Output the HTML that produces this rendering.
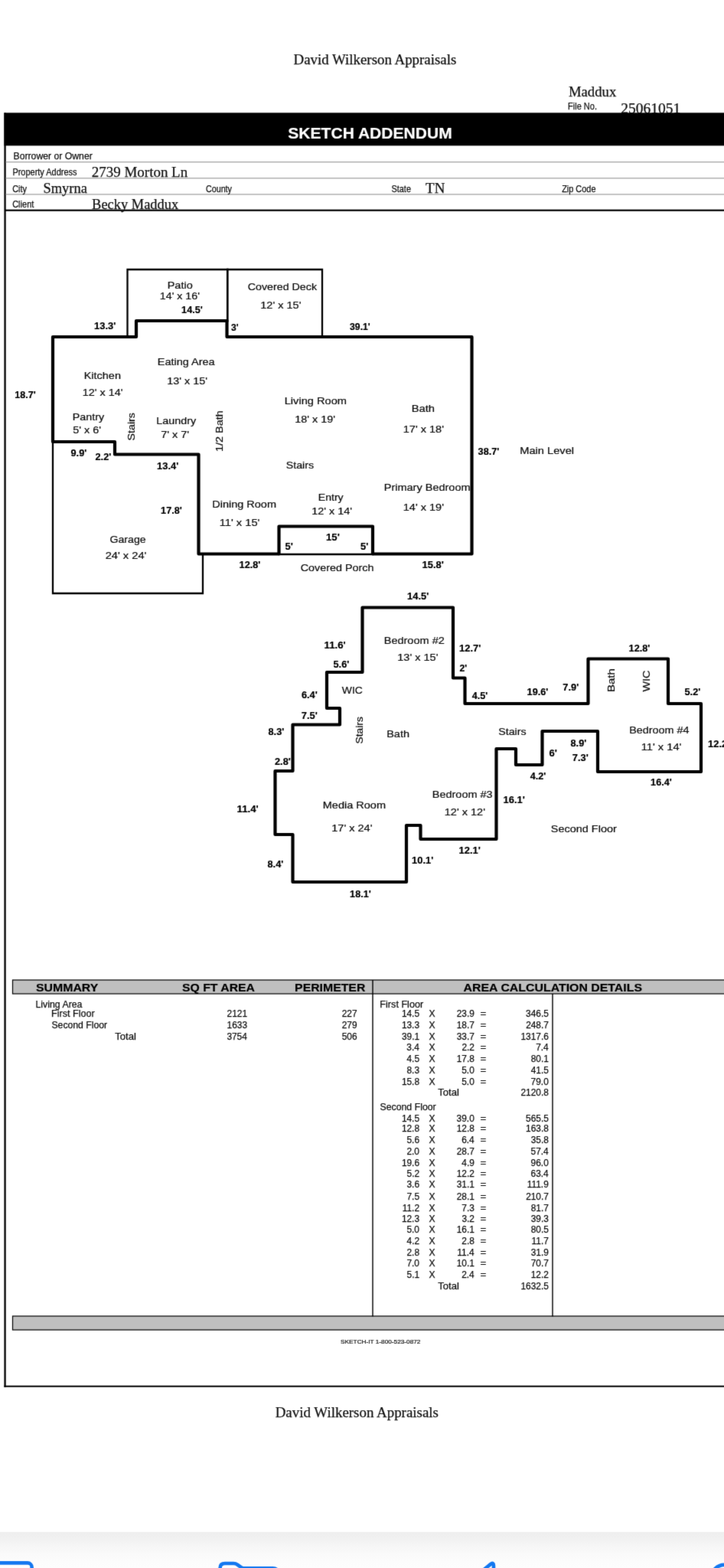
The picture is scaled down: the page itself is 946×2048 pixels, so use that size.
<!DOCTYPE html>
<html lang="en">
<head>
<meta charset="utf-8">
<title>Sketch Addendum</title>
<style>
html,body{margin:0;padding:0;background:#fff}
body{width:946px;height:2048px;overflow:hidden;position:relative}
svg{position:absolute;left:0;top:0;display:block;will-change:transform}
text{white-space:pre}
text.room{font-family:"Liberation Sans", Arial, Helvetica, sans-serif;font-size:12.2px;font-weight:normal;fill:#111;stroke:#111;stroke-width:0.22}
text.dim{font-family:"Liberation Sans", Arial, Helvetica, sans-serif;font-size:12.0px;font-weight:bold;fill:#000;stroke:#000;stroke-width:0.2}
text.lbl{font-family:"Liberation Sans", Arial, Helvetica, sans-serif;font-size:12.1px;font-weight:normal;fill:#111;stroke:#111;stroke-width:0.25}
text.lbln{font-family:"Liberation Sans", Arial, Helvetica, sans-serif;font-size:12.1px;font-weight:normal;fill:#111;stroke:#111;stroke-width:0.25}
text.ser{font-family:"Liberation Serif", "Times New Roman", serif;font-size:18.5px;font-weight:normal;fill:#111;stroke:#111;stroke-width:0.25}
text.title{font-family:"Liberation Sans", Arial, Helvetica, sans-serif;font-size:20.5px;font-weight:bold;fill:#fff;stroke:#fff;stroke-width:0.2}
text.th{font-family:"Liberation Sans", Arial, Helvetica, sans-serif;font-size:15.4px;font-weight:bold;fill:#000;stroke:#000;stroke-width:0.2}
text.td{font-family:"Liberation Sans", Arial, Helvetica, sans-serif;font-size:11.9px;font-weight:normal;fill:#111;stroke:#111;stroke-width:0.25}
text.tiny{font-family:"Liberation Sans", Arial, Helvetica, sans-serif;font-size:8.0px;font-weight:normal;fill:#111;stroke:#111;stroke-width:0.2}
</style>
</head>
<body>
<svg width="946" height="2048" viewBox="0 0 946 2048">
<defs><filter id="soft" filterUnits="userSpaceOnUse" x="-30" y="-30" width="1006" height="2108" color-interpolation-filters="sRGB"><feConvolveMatrix order="3" kernelMatrix="0.01 0.08 0.01 0.08 0.64 0.08 0.01 0.08 0.01" edgeMode="duplicate" preserveAlpha="true"/></filter><linearGradient id="tb" gradientUnits="userSpaceOnUse" x1="0" y1="2001" x2="0" y2="2048"><stop offset="0" stop-color="#eeeeee"/><stop offset="0.2" stop-color="#f1f1f1"/><stop offset="0.4" stop-color="#f6f6f6"/><stop offset="0.62" stop-color="#fafafa"/><stop offset="0.85" stop-color="#fcfcfc"/><stop offset="1" stop-color="#fdfdfd"/></linearGradient></defs>
<g filter="url(#soft)">
<rect x="-30" y="-30" width="1006" height="2031" fill="#fff"/>
<rect x="-30" y="2001" width="1006" height="77" fill="url(#tb)"/>
<g fill="none" stroke="#1478f0" stroke-width="4.6" stroke-linejoin="round" stroke-linecap="round">
<rect x="-10" y="2041.4" width="51.6" height="40" rx="5.5"/>
<path d="M287.6 2062 V2048 Q287.6 2042 294 2042 H305 Q308 2042 310.5 2043.8 L315 2047.2 Q316.5 2048.3 318.5 2048.3 H356.5 Q362.5 2048.3 363 2054"/>
<path d="M630 2052 L641.5 2042.6 Q645 2040.4 645 2045 V2052"/>
<circle cx="946.7" cy="2061.6" r="17.7"/>
</g>
<rect x="5.4" y="147.3" width="2.3" height="1664.4" fill="#000"/>
<rect x="5.4" y="1809.7" width="970" height="2" fill="#000"/>
<rect x="7" y="211.2" width="969" height="1" fill="#8a8a8a"/>
<rect x="7" y="232.3" width="969" height="1" fill="#8a8a8a"/>
<rect x="7" y="253.4" width="969" height="1" fill="#8a8a8a"/>
<rect x="7" y="273.6" width="969" height="2.2" fill="#000"/>
<text class="ser" x="383.51" y="83.70" textLength="212.76" lengthAdjust="spacingAndGlyphs">David Wilkerson Appraisals</text>
<text class="ser" x="742.92" y="125.50" textLength="62.35" lengthAdjust="spacingAndGlyphs">Maddux</text>
<text class="lbln" font-size="11.60" x="742.11" y="142.70" textLength="37.87" lengthAdjust="spacingAndGlyphs">File No.</text>
<text class="ser" x="811.15" y="147.70" textLength="78.07" lengthAdjust="spacingAndGlyphs">25061051</text>
<rect x="5.4" y="147.3" width="970" height="43" fill="#000"/>
<text class="title" x="376.34" y="180.50" textLength="214.35" lengthAdjust="spacingAndGlyphs">SKETCH ADDENDUM</text>
<text class="lbl" x="17.51" y="207.50" textLength="103.28" lengthAdjust="spacingAndGlyphs">Borrower or Owner</text>
<text class="lbln" x="16.41" y="228.50" textLength="84.02" lengthAdjust="spacingAndGlyphs">Property Address</text>
<text class="ser" x="119.77" y="230.80" textLength="125.44" lengthAdjust="spacingAndGlyphs">2739 Morton Ln</text>
<text class="lbln" x="16.15" y="250.50" textLength="18.82" lengthAdjust="spacingAndGlyphs">City</text>
<text class="ser" x="56.53" y="252.00" textLength="57.37" lengthAdjust="spacingAndGlyphs">Smyrna</text>
<text class="lbln" x="268.96" y="250.50" textLength="34.03" lengthAdjust="spacingAndGlyphs">County</text>
<text class="lbln" x="511.52" y="250.50" textLength="25.43" lengthAdjust="spacingAndGlyphs">State</text>
<text class="ser" x="556.14" y="251.80" textLength="25.24" lengthAdjust="spacingAndGlyphs">TN</text>
<text class="lbln" x="734.16" y="250.50" textLength="44.33" lengthAdjust="spacingAndGlyphs">Zip Code</text>
<text class="lbln" x="16.15" y="270.50" textLength="28.23" lengthAdjust="spacingAndGlyphs">Client</text>
<text class="ser" x="120.12" y="272.70" textLength="113.11" lengthAdjust="spacingAndGlyphs">Becky Maddux</text>
<g fill="none" stroke="#000" stroke-width="2.3" stroke-linejoin="miter" stroke-linecap="square">
<path d="M166.5 440 V352 H421 V440"/>
<path d="M297.3 352 V419" stroke-width="2.7"/>
<path d="M69 577 V775 H265 V723.5"/>
<path d="M364.5 724 H487"/>
</g>
<g fill="none" stroke="#000" stroke-width="4.2" stroke-linejoin="round" stroke-linecap="round">
<path d="M69 440 H178 V419 H296.5 V440 H616.5 V723.5 H487 V687.5 H364.5 V723.5 H259.5 V593.5 H150 V577 H69 Z"/>
<path d="M473.5 793.5 H592 V885.5 H607.5 V919 H768.5 V860.5 H873 V919 H916 V1008 H781 V955 H708.5 V999 H674 V978 H648.5 V1096 H549.5 V1078 H531 V1152 H382.5 V1090 H359.5 V1007 H382.5 V946.5 H444 V925 H427 V878 H473.5 Z"/>
</g>
<text class="room" x="218.72" y="376.50" textLength="32.98" lengthAdjust="spacingAndGlyphs">Patio</text>
<text class="room" x="208.83" y="391.00" textLength="52.07" lengthAdjust="spacingAndGlyphs">14' x 16'</text>
<text class="room" x="323.69" y="379.00" textLength="90.39" lengthAdjust="spacingAndGlyphs">Covered Deck</text>
<text class="room" x="340.31" y="402.50" textLength="53.11" lengthAdjust="spacingAndGlyphs">12' x 15'</text>
<text class="room" x="205.72" y="477.00" textLength="74.90" lengthAdjust="spacingAndGlyphs">Eating Area</text>
<text class="room" x="218.32" y="501.50" textLength="52.59" lengthAdjust="spacingAndGlyphs">13' x 15'</text>
<text class="room" x="109.72" y="495.00" textLength="48.25" lengthAdjust="spacingAndGlyphs">Kitchen</text>
<text class="room" x="107.82" y="516.50" textLength="52.59" lengthAdjust="spacingAndGlyphs">12' x 14'</text>
<text class="room" x="94.74" y="548.50" textLength="41.40" lengthAdjust="spacingAndGlyphs">Pantry</text>
<text class="room" x="95.36" y="565.50" textLength="36.55" lengthAdjust="spacingAndGlyphs">5' x 6'</text>
<text class="room" x="204.23" y="553.50" textLength="51.88" lengthAdjust="spacingAndGlyphs">Laundry</text>
<text class="room" x="210.18" y="572.00" textLength="36.74" lengthAdjust="spacingAndGlyphs">7' x 7'</text>
<text class="room" x="371.71" y="527.50" textLength="81.33" lengthAdjust="spacingAndGlyphs">Living Room</text>
<text class="room" x="385.32" y="551.50" textLength="52.59" lengthAdjust="spacingAndGlyphs">18' x 19'</text>
<text class="room" x="537.70" y="538.00" textLength="30.33" lengthAdjust="spacingAndGlyphs">Bath</text>
<text class="room" x="526.81" y="564.50" textLength="53.11" lengthAdjust="spacingAndGlyphs">17' x 18'</text>
<text class="room" x="373.78" y="612.00" textLength="36.35" lengthAdjust="spacingAndGlyphs">Stairs</text>
<text class="room" x="277.22" y="663.00" textLength="83.77" lengthAdjust="spacingAndGlyphs">Dining Room</text>
<text class="room" x="286.80" y="686.50" textLength="52.54" lengthAdjust="spacingAndGlyphs">11' x 15'</text>
<text class="room" x="415.76" y="654.00" textLength="32.88" lengthAdjust="spacingAndGlyphs">Entry</text>
<text class="room" x="407.32" y="671.50" textLength="52.59" lengthAdjust="spacingAndGlyphs">12' x 14'</text>
<text class="room" x="501.72" y="640.50" textLength="112.85" lengthAdjust="spacingAndGlyphs">Primary Bedroom</text>
<text class="room" x="526.81" y="667.00" textLength="53.11" lengthAdjust="spacingAndGlyphs">14' x 19'</text>
<text class="room" x="143.44" y="708.50" textLength="47.25" lengthAdjust="spacingAndGlyphs">Garage</text>
<text class="room" x="137.67" y="730.00" textLength="53.76" lengthAdjust="spacingAndGlyphs">24' x 24'</text>
<text class="room" x="392.68" y="746.00" textLength="95.83" lengthAdjust="spacingAndGlyphs">Covered Porch</text>
<text class="room" x="679.21" y="592.50" textLength="70.88" lengthAdjust="spacingAndGlyphs">Main Level</text>
<text class="room" x="501.72" y="841.00" textLength="79.07" lengthAdjust="spacingAndGlyphs">Bedroom #2</text>
<text class="room" x="519.31" y="862.50" textLength="53.11" lengthAdjust="spacingAndGlyphs">13' x 15'</text>
<text class="room" x="446.81" y="906.00" textLength="27.00" lengthAdjust="spacingAndGlyphs">WIC</text>
<text class="room" x="505.22" y="963.00" textLength="29.79" lengthAdjust="spacingAndGlyphs">Bath</text>
<text class="room" x="421.72" y="1056.00" textLength="82.29" lengthAdjust="spacingAndGlyphs">Media Room</text>
<text class="room" x="433.31" y="1085.50" textLength="53.11" lengthAdjust="spacingAndGlyphs">17' x 24'</text>
<text class="room" x="651.28" y="959.50" textLength="36.35" lengthAdjust="spacingAndGlyphs">Stairs</text>
<text class="room" x="564.72" y="1042.00" textLength="78.98" lengthAdjust="spacingAndGlyphs">Bedroom #3</text>
<text class="room" x="580.81" y="1064.50" textLength="53.11" lengthAdjust="spacingAndGlyphs">12' x 12'</text>
<text class="room" x="822.23" y="957.50" textLength="78.28" lengthAdjust="spacingAndGlyphs">Bedroom #4</text>
<text class="room" x="837.80" y="980.00" textLength="52.54" lengthAdjust="spacingAndGlyphs">11' x 14'</text>
<text class="room" x="719.77" y="1086.50" textLength="86.07" lengthAdjust="spacingAndGlyphs">Second Floor</text>
<text class="room" transform="translate(175.50 575.52) rotate(-90)" textLength="36.46" lengthAdjust="spacingAndGlyphs">Stairs</text>
<text class="room" transform="translate(290.50 589.98) rotate(-90)" textLength="53.79" lengthAdjust="spacingAndGlyphs">1/2 Bath</text>
<text class="room" transform="translate(473.50 971.51) rotate(-90)" textLength="35.42" lengthAdjust="spacingAndGlyphs">Stairs</text>
<text class="room" transform="translate(803.00 904.12) rotate(-90)" textLength="30.98" lengthAdjust="spacingAndGlyphs">Bath</text>
<text class="room" transform="translate(848.50 903.49) rotate(-90)" textLength="28.02" lengthAdjust="spacingAndGlyphs">WIC</text>
<text class="dim" x="237.11" y="408.50" textLength="27.66" lengthAdjust="spacingAndGlyphs">14.5'</text>
<text class="dim" x="123.09" y="430.00" textLength="28.19" lengthAdjust="spacingAndGlyphs">13.3'</text>
<text class="dim" x="302.10" y="432.00" textLength="9.61" lengthAdjust="spacingAndGlyphs">3'</text>
<text class="dim" x="457.09" y="430.50" textLength="26.65" lengthAdjust="spacingAndGlyphs">39.1'</text>
<text class="dim" x="19.32" y="519.90" textLength="27.34" lengthAdjust="spacingAndGlyphs">18.7'</text>
<text class="dim" x="92.50" y="596.00" textLength="20.77" lengthAdjust="spacingAndGlyphs">9.9'</text>
<text class="dim" x="124.50" y="600.50" textLength="20.77" lengthAdjust="spacingAndGlyphs">2.2'</text>
<text class="dim" x="205.09" y="613.00" textLength="28.19" lengthAdjust="spacingAndGlyphs">13.4'</text>
<text class="dim" x="210.11" y="670.50" textLength="27.66" lengthAdjust="spacingAndGlyphs">17.8'</text>
<text class="dim" x="624.58" y="593.50" textLength="27.69" lengthAdjust="spacingAndGlyphs">38.7'</text>
<text class="dim" x="426.08" y="706.00" textLength="17.67" lengthAdjust="spacingAndGlyphs">15'</text>
<text class="dim" x="372.50" y="717.50" textLength="10.25" lengthAdjust="spacingAndGlyphs">5'</text>
<text class="dim" x="471.00" y="717.50" textLength="10.25" lengthAdjust="spacingAndGlyphs">5'</text>
<text class="dim" x="312.61" y="742.00" textLength="27.66" lengthAdjust="spacingAndGlyphs">12.8'</text>
<text class="dim" x="551.59" y="741.50" textLength="28.19" lengthAdjust="spacingAndGlyphs">15.8'</text>
<text class="dim" x="532.09" y="782.50" textLength="28.19" lengthAdjust="spacingAndGlyphs">14.5'</text>
<text class="dim" x="600.09" y="851.00" textLength="28.19" lengthAdjust="spacingAndGlyphs">12.7'</text>
<text class="dim" x="600.52" y="877.00" textLength="9.69" lengthAdjust="spacingAndGlyphs">2'</text>
<text class="dim" x="423.57" y="847.00" textLength="28.16" lengthAdjust="spacingAndGlyphs">11.6'</text>
<text class="dim" x="435.50" y="871.50" textLength="20.77" lengthAdjust="spacingAndGlyphs">5.6'</text>
<text class="dim" x="393.92" y="912.00" textLength="20.86" lengthAdjust="spacingAndGlyphs">6.4'</text>
<text class="dim" x="393.84" y="938.50" textLength="20.94" lengthAdjust="spacingAndGlyphs">7.5'</text>
<text class="dim" x="350.50" y="960.00" textLength="20.77" lengthAdjust="spacingAndGlyphs">8.3'</text>
<text class="dim" x="359.00" y="998.50" textLength="20.77" lengthAdjust="spacingAndGlyphs">2.8'</text>
<text class="dim" x="309.57" y="1060.50" textLength="28.16" lengthAdjust="spacingAndGlyphs">11.4'</text>
<text class="dim" x="349.50" y="1133.00" textLength="20.77" lengthAdjust="spacingAndGlyphs">8.4'</text>
<text class="dim" x="457.11" y="1172.00" textLength="27.66" lengthAdjust="spacingAndGlyphs">18.1'</text>
<text class="dim" x="538.09" y="1127.50" textLength="28.19" lengthAdjust="spacingAndGlyphs">10.1'</text>
<text class="dim" x="599.59" y="1114.50" textLength="28.19" lengthAdjust="spacingAndGlyphs">12.1'</text>
<text class="dim" x="616.74" y="913.00" textLength="20.52" lengthAdjust="spacingAndGlyphs">4.5'</text>
<text class="dim" x="688.61" y="907.50" textLength="27.66" lengthAdjust="spacingAndGlyphs">19.6'</text>
<text class="dim" x="735.34" y="901.50" textLength="20.94" lengthAdjust="spacingAndGlyphs">7.9'</text>
<text class="dim" x="717.41" y="987.50" textLength="10.34" lengthAdjust="spacingAndGlyphs">6'</text>
<text class="dim" x="692.74" y="1017.50" textLength="20.52" lengthAdjust="spacingAndGlyphs">4.2'</text>
<text class="dim" x="657.59" y="1048.50" textLength="28.19" lengthAdjust="spacingAndGlyphs">16.1'</text>
<text class="dim" x="821.61" y="850.50" textLength="27.66" lengthAdjust="spacingAndGlyphs">12.8'</text>
<text class="dim" x="894.50" y="907.50" textLength="20.77" lengthAdjust="spacingAndGlyphs">5.2'</text>
<text class="dim" x="925.09" y="976.00" textLength="28.19" lengthAdjust="spacingAndGlyphs">12.2'</text>
<text class="dim" x="745.50" y="974.50" textLength="20.77" lengthAdjust="spacingAndGlyphs">8.9'</text>
<text class="dim" x="747.84" y="994.00" textLength="20.94" lengthAdjust="spacingAndGlyphs">7.3'</text>
<text class="dim" x="850.11" y="1026.00" textLength="27.66" lengthAdjust="spacingAndGlyphs">16.4'</text>
<rect x="16.5" y="1280" width="970" height="18" fill="#bfbfbf" stroke="#0a0a0a" stroke-width="1.25"/>
<rect x="16.5" y="1719" width="970" height="18" fill="#bfbfbf" stroke="#0a0a0a" stroke-width="1.25"/>
<path d="M487 1280 V1719.5 M722 1298 V1719.5" fill="none" stroke="#000" stroke-width="1.4"/>
<text class="th" x="47.00" y="1295.00" textLength="81.26" lengthAdjust="spacingAndGlyphs">SUMMARY</text>
<text class="th" x="238.01" y="1295.00" textLength="94.98" lengthAdjust="spacingAndGlyphs">SQ FT AREA</text>
<text class="th" x="385.11" y="1295.00" textLength="92.23" lengthAdjust="spacingAndGlyphs">PERIMETER</text>
<text class="th" x="605.60" y="1295.00" textLength="233.43" lengthAdjust="spacingAndGlyphs">AREA CALCULATION DETAILS</text>
<text class="td" x="46.50" y="1315.50" textLength="60.97" lengthAdjust="spacingAndGlyphs">Living Area</text>
<text class="td" x="66.98" y="1328.00" textLength="56.68" lengthAdjust="spacingAndGlyphs">First Floor</text>
<text class="td" x="67.46" y="1343.00" textLength="72.74" lengthAdjust="spacingAndGlyphs">Second Floor</text>
<text class="td" x="150.25" y="1358.00" textLength="27.64" lengthAdjust="spacingAndGlyphs">Total</text>
<text class="td" x="296.62" y="1328.00" textLength="26.47" lengthAdjust="spacingAndGlyphs">2121</text>
<text class="td" x="446.74" y="1328.00" textLength="19.85" lengthAdjust="spacingAndGlyphs">227</text>
<text class="td" x="296.54" y="1343.00" textLength="26.47" lengthAdjust="spacingAndGlyphs">1633</text>
<text class="td" x="446.66" y="1343.00" textLength="19.85" lengthAdjust="spacingAndGlyphs">279</text>
<text class="td" x="296.39" y="1358.00" textLength="26.47" lengthAdjust="spacingAndGlyphs">3754</text>
<text class="td" x="446.66" y="1358.00" textLength="19.85" lengthAdjust="spacingAndGlyphs">506</text>
<text class="td" x="496.37" y="1315.50" textLength="56.78" lengthAdjust="spacingAndGlyphs">First Floor</text>
<text class="td" x="524.89" y="1328.00" textLength="23.16" lengthAdjust="spacingAndGlyphs">14.5</text>
<text class="td" x="560.60" y="1328.00" textLength="8.08" lengthAdjust="spacingAndGlyphs">X</text>
<text class="td" x="596.69" y="1328.00" textLength="23.16" lengthAdjust="spacingAndGlyphs">23.9</text>
<text class="td" x="627.53" y="1328.00" textLength="7.79" lengthAdjust="spacingAndGlyphs">=</text>
<text class="td" x="687.07" y="1328.00" textLength="29.78" lengthAdjust="spacingAndGlyphs">346.5</text>
<text class="td" x="524.89" y="1343.00" textLength="23.16" lengthAdjust="spacingAndGlyphs">13.3</text>
<text class="td" x="560.60" y="1343.00" textLength="8.08" lengthAdjust="spacingAndGlyphs">X</text>
<text class="td" x="596.76" y="1343.00" textLength="23.16" lengthAdjust="spacingAndGlyphs">18.7</text>
<text class="td" x="627.53" y="1343.00" textLength="7.79" lengthAdjust="spacingAndGlyphs">=</text>
<text class="td" x="687.14" y="1343.00" textLength="29.78" lengthAdjust="spacingAndGlyphs">248.7</text>
<text class="td" x="524.96" y="1358.00" textLength="23.16" lengthAdjust="spacingAndGlyphs">39.1</text>
<text class="td" x="560.60" y="1358.00" textLength="8.08" lengthAdjust="spacingAndGlyphs">X</text>
<text class="td" x="596.76" y="1358.00" textLength="23.16" lengthAdjust="spacingAndGlyphs">33.7</text>
<text class="td" x="627.53" y="1358.00" textLength="7.79" lengthAdjust="spacingAndGlyphs">=</text>
<text class="td" x="680.45" y="1358.00" textLength="36.40" lengthAdjust="spacingAndGlyphs">1317.6</text>
<text class="td" x="531.36" y="1372.00" textLength="16.54" lengthAdjust="spacingAndGlyphs">3.4</text>
<text class="td" x="560.60" y="1372.00" textLength="8.08" lengthAdjust="spacingAndGlyphs">X</text>
<text class="td" x="603.38" y="1372.00" textLength="16.54" lengthAdjust="spacingAndGlyphs">2.2</text>
<text class="td" x="627.53" y="1372.00" textLength="7.79" lengthAdjust="spacingAndGlyphs">=</text>
<text class="td" x="700.16" y="1372.00" textLength="16.54" lengthAdjust="spacingAndGlyphs">7.4</text>
<text class="td" x="531.51" y="1387.00" textLength="16.54" lengthAdjust="spacingAndGlyphs">4.5</text>
<text class="td" x="560.60" y="1387.00" textLength="8.08" lengthAdjust="spacingAndGlyphs">X</text>
<text class="td" x="596.69" y="1387.00" textLength="23.16" lengthAdjust="spacingAndGlyphs">17.8</text>
<text class="td" x="627.53" y="1387.00" textLength="7.79" lengthAdjust="spacingAndGlyphs">=</text>
<text class="td" x="693.76" y="1387.00" textLength="23.16" lengthAdjust="spacingAndGlyphs">80.1</text>
<text class="td" x="531.51" y="1402.00" textLength="16.54" lengthAdjust="spacingAndGlyphs">8.3</text>
<text class="td" x="560.60" y="1402.00" textLength="8.08" lengthAdjust="spacingAndGlyphs">X</text>
<text class="td" x="603.24" y="1402.00" textLength="16.54" lengthAdjust="spacingAndGlyphs">5.0</text>
<text class="td" x="627.53" y="1402.00" textLength="7.79" lengthAdjust="spacingAndGlyphs">=</text>
<text class="td" x="693.69" y="1402.00" textLength="23.16" lengthAdjust="spacingAndGlyphs">41.5</text>
<text class="td" x="524.89" y="1417.00" textLength="23.16" lengthAdjust="spacingAndGlyphs">15.8</text>
<text class="td" x="560.60" y="1417.00" textLength="8.08" lengthAdjust="spacingAndGlyphs">X</text>
<text class="td" x="603.24" y="1417.00" textLength="16.54" lengthAdjust="spacingAndGlyphs">5.0</text>
<text class="td" x="627.53" y="1417.00" textLength="7.79" lengthAdjust="spacingAndGlyphs">=</text>
<text class="td" x="693.62" y="1417.00" textLength="23.16" lengthAdjust="spacingAndGlyphs">79.0</text>
<text class="td" x="572.25" y="1431.00" textLength="27.64" lengthAdjust="spacingAndGlyphs">Total</text>
<text class="td" x="680.45" y="1431.00" textLength="36.40" lengthAdjust="spacingAndGlyphs">2120.8</text>
<text class="td" x="496.46" y="1450.00" textLength="73.24" lengthAdjust="spacingAndGlyphs">Second Floor</text>
<text class="td" x="524.89" y="1465.00" textLength="23.16" lengthAdjust="spacingAndGlyphs">14.5</text>
<text class="td" x="560.60" y="1465.00" textLength="8.08" lengthAdjust="spacingAndGlyphs">X</text>
<text class="td" x="596.62" y="1465.00" textLength="23.16" lengthAdjust="spacingAndGlyphs">39.0</text>
<text class="td" x="627.53" y="1465.00" textLength="7.79" lengthAdjust="spacingAndGlyphs">=</text>
<text class="td" x="687.07" y="1465.00" textLength="29.78" lengthAdjust="spacingAndGlyphs">565.5</text>
<text class="td" x="524.89" y="1478.00" textLength="23.16" lengthAdjust="spacingAndGlyphs">12.8</text>
<text class="td" x="560.60" y="1478.00" textLength="8.08" lengthAdjust="spacingAndGlyphs">X</text>
<text class="td" x="596.69" y="1478.00" textLength="23.16" lengthAdjust="spacingAndGlyphs">12.8</text>
<text class="td" x="627.53" y="1478.00" textLength="7.79" lengthAdjust="spacingAndGlyphs">=</text>
<text class="td" x="687.07" y="1478.00" textLength="29.78" lengthAdjust="spacingAndGlyphs">163.8</text>
<text class="td" x="531.51" y="1493.00" textLength="16.54" lengthAdjust="spacingAndGlyphs">5.6</text>
<text class="td" x="560.60" y="1493.00" textLength="8.08" lengthAdjust="spacingAndGlyphs">X</text>
<text class="td" x="603.16" y="1493.00" textLength="16.54" lengthAdjust="spacingAndGlyphs">6.4</text>
<text class="td" x="627.53" y="1493.00" textLength="7.79" lengthAdjust="spacingAndGlyphs">=</text>
<text class="td" x="693.69" y="1493.00" textLength="23.16" lengthAdjust="spacingAndGlyphs">35.8</text>
<text class="td" x="531.43" y="1508.00" textLength="16.54" lengthAdjust="spacingAndGlyphs">2.0</text>
<text class="td" x="560.60" y="1508.00" textLength="8.08" lengthAdjust="spacingAndGlyphs">X</text>
<text class="td" x="596.76" y="1508.00" textLength="23.16" lengthAdjust="spacingAndGlyphs">28.7</text>
<text class="td" x="627.53" y="1508.00" textLength="7.79" lengthAdjust="spacingAndGlyphs">=</text>
<text class="td" x="693.54" y="1508.00" textLength="23.16" lengthAdjust="spacingAndGlyphs">57.4</text>
<text class="td" x="524.89" y="1523.00" textLength="23.16" lengthAdjust="spacingAndGlyphs">19.6</text>
<text class="td" x="560.60" y="1523.00" textLength="8.08" lengthAdjust="spacingAndGlyphs">X</text>
<text class="td" x="603.31" y="1523.00" textLength="16.54" lengthAdjust="spacingAndGlyphs">4.9</text>
<text class="td" x="627.53" y="1523.00" textLength="7.79" lengthAdjust="spacingAndGlyphs">=</text>
<text class="td" x="693.62" y="1523.00" textLength="23.16" lengthAdjust="spacingAndGlyphs">96.0</text>
<text class="td" x="531.58" y="1537.00" textLength="16.54" lengthAdjust="spacingAndGlyphs">5.2</text>
<text class="td" x="560.60" y="1537.00" textLength="8.08" lengthAdjust="spacingAndGlyphs">X</text>
<text class="td" x="596.76" y="1537.00" textLength="23.16" lengthAdjust="spacingAndGlyphs">12.2</text>
<text class="td" x="627.53" y="1537.00" textLength="7.79" lengthAdjust="spacingAndGlyphs">=</text>
<text class="td" x="693.54" y="1537.00" textLength="23.16" lengthAdjust="spacingAndGlyphs">63.4</text>
<text class="td" x="531.51" y="1551.00" textLength="16.54" lengthAdjust="spacingAndGlyphs">3.6</text>
<text class="td" x="560.60" y="1551.00" textLength="8.08" lengthAdjust="spacingAndGlyphs">X</text>
<text class="td" x="596.76" y="1551.00" textLength="23.16" lengthAdjust="spacingAndGlyphs">31.1</text>
<text class="td" x="627.53" y="1551.00" textLength="7.79" lengthAdjust="spacingAndGlyphs">=</text>
<text class="td" x="688.78" y="1551.00" textLength="28.01" lengthAdjust="spacingAndGlyphs">111.9</text>
<text class="td" x="531.51" y="1567.00" textLength="16.54" lengthAdjust="spacingAndGlyphs">7.5</text>
<text class="td" x="560.60" y="1567.00" textLength="8.08" lengthAdjust="spacingAndGlyphs">X</text>
<text class="td" x="596.76" y="1567.00" textLength="23.16" lengthAdjust="spacingAndGlyphs">28.1</text>
<text class="td" x="627.53" y="1567.00" textLength="7.79" lengthAdjust="spacingAndGlyphs">=</text>
<text class="td" x="687.14" y="1567.00" textLength="29.78" lengthAdjust="spacingAndGlyphs">210.7</text>
<text class="td" x="525.78" y="1582.00" textLength="22.28" lengthAdjust="spacingAndGlyphs">11.2</text>
<text class="td" x="560.60" y="1582.00" textLength="8.08" lengthAdjust="spacingAndGlyphs">X</text>
<text class="td" x="603.31" y="1582.00" textLength="16.54" lengthAdjust="spacingAndGlyphs">7.3</text>
<text class="td" x="627.53" y="1582.00" textLength="7.79" lengthAdjust="spacingAndGlyphs">=</text>
<text class="td" x="693.76" y="1582.00" textLength="23.16" lengthAdjust="spacingAndGlyphs">81.7</text>
<text class="td" x="524.89" y="1596.00" textLength="23.16" lengthAdjust="spacingAndGlyphs">12.3</text>
<text class="td" x="560.60" y="1596.00" textLength="8.08" lengthAdjust="spacingAndGlyphs">X</text>
<text class="td" x="603.38" y="1596.00" textLength="16.54" lengthAdjust="spacingAndGlyphs">3.2</text>
<text class="td" x="627.53" y="1596.00" textLength="7.79" lengthAdjust="spacingAndGlyphs">=</text>
<text class="td" x="693.69" y="1596.00" textLength="23.16" lengthAdjust="spacingAndGlyphs">39.3</text>
<text class="td" x="531.44" y="1610.00" textLength="16.54" lengthAdjust="spacingAndGlyphs">5.0</text>
<text class="td" x="560.60" y="1610.00" textLength="8.08" lengthAdjust="spacingAndGlyphs">X</text>
<text class="td" x="596.76" y="1610.00" textLength="23.16" lengthAdjust="spacingAndGlyphs">16.1</text>
<text class="td" x="627.53" y="1610.00" textLength="7.79" lengthAdjust="spacingAndGlyphs">=</text>
<text class="td" x="693.69" y="1610.00" textLength="23.16" lengthAdjust="spacingAndGlyphs">80.5</text>
<text class="td" x="531.58" y="1625.00" textLength="16.54" lengthAdjust="spacingAndGlyphs">4.2</text>
<text class="td" x="560.60" y="1625.00" textLength="8.08" lengthAdjust="spacingAndGlyphs">X</text>
<text class="td" x="603.31" y="1625.00" textLength="16.54" lengthAdjust="spacingAndGlyphs">2.8</text>
<text class="td" x="627.53" y="1625.00" textLength="7.79" lengthAdjust="spacingAndGlyphs">=</text>
<text class="td" x="694.58" y="1625.00" textLength="22.28" lengthAdjust="spacingAndGlyphs">11.7</text>
<text class="td" x="531.51" y="1640.00" textLength="16.54" lengthAdjust="spacingAndGlyphs">2.8</text>
<text class="td" x="560.60" y="1640.00" textLength="8.08" lengthAdjust="spacingAndGlyphs">X</text>
<text class="td" x="597.36" y="1640.00" textLength="22.28" lengthAdjust="spacingAndGlyphs">11.4</text>
<text class="td" x="627.53" y="1640.00" textLength="7.79" lengthAdjust="spacingAndGlyphs">=</text>
<text class="td" x="693.69" y="1640.00" textLength="23.16" lengthAdjust="spacingAndGlyphs">31.9</text>
<text class="td" x="531.43" y="1654.00" textLength="16.54" lengthAdjust="spacingAndGlyphs">7.0</text>
<text class="td" x="560.60" y="1654.00" textLength="8.08" lengthAdjust="spacingAndGlyphs">X</text>
<text class="td" x="596.76" y="1654.00" textLength="23.16" lengthAdjust="spacingAndGlyphs">10.1</text>
<text class="td" x="627.53" y="1654.00" textLength="7.79" lengthAdjust="spacingAndGlyphs">=</text>
<text class="td" x="693.76" y="1654.00" textLength="23.16" lengthAdjust="spacingAndGlyphs">70.7</text>
<text class="td" x="531.58" y="1669.00" textLength="16.54" lengthAdjust="spacingAndGlyphs">5.1</text>
<text class="td" x="560.60" y="1669.00" textLength="8.08" lengthAdjust="spacingAndGlyphs">X</text>
<text class="td" x="603.16" y="1669.00" textLength="16.54" lengthAdjust="spacingAndGlyphs">2.4</text>
<text class="td" x="627.53" y="1669.00" textLength="7.79" lengthAdjust="spacingAndGlyphs">=</text>
<text class="td" x="693.76" y="1669.00" textLength="23.16" lengthAdjust="spacingAndGlyphs">12.2</text>
<text class="td" x="572.25" y="1684.00" textLength="27.64" lengthAdjust="spacingAndGlyphs">Total</text>
<text class="td" x="680.45" y="1684.00" textLength="36.40" lengthAdjust="spacingAndGlyphs">1632.5</text>
<text class="tiny" x="445.14" y="1754.50" textLength="104.26" lengthAdjust="spacingAndGlyphs">SKETCH-IT 1-800-523-0872</text>
<text class="ser" x="359.71" y="1851.00" textLength="213.26" lengthAdjust="spacingAndGlyphs">David Wilkerson Appraisals</text>
</g>
</svg>
</body>
</html>
